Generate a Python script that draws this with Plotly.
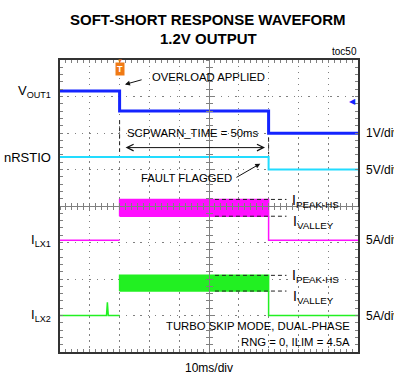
import plotly.graph_objects as go

# ---- scope capture: time base 10 ms/div, 10 divisions ----
T_RANGE = [0, 100]          # ms
DIV_RANGE = [-4, 4]         # vertical divisions

# channel settings: (units per division, ground offset in divisions)
CH_VOUT1 = (1.0, 1.99)
CH_NRSTIO = (5.0, 1.0)
CH_ILX1 = (5.0, -0.94)
CH_ILX2 = (5.0, -3.0)

# event times (ms)
T_OVERLOAD = 20
T_FAULT = 70

# VOUT1 (V)
vout1_t = [0, T_OVERLOAD, T_OVERLOAD, T_FAULT, T_FAULT, 100]
vout1_v = [1.16, 1.16, 0.61, 0.61, 0.0, 0.0]

# nRSTIO (V)
nrstio_t = [0, T_FAULT, T_FAULT, 100]
nrstio_v = [1.7, 1.7, 0.0, 0.0]

# ILX1 (A): idle level, switching band between valley and peak
ilx1_t = [0, T_OVERLOAD, None, T_FAULT, T_FAULT, 100]
ilx1_i = [0.0, 0.0, None, 3.3, 0.0, 0.0]
ilx1_peak = 5.6
ilx1_valley = 3.3

# ILX2 (A): idle level with one pulse, switching band
ilx2_t = [0, 15.6, 15.9, 16.2, T_OVERLOAD, None, T_FAULT, T_FAULT, 100]
ilx2_i = [0.0, 0.0, 1.8, 0.0, 0.0, None, 3.35, 0.0, 0.0]
ilx2_peak = 5.5
ilx2_valley = 3.35

# trigger level on VOUT1 (V)
vout1_trig = 0.86

FONT = "Liberation Sans, Arial, sans-serif"
BLUE = "#1424ff"
CYAN = "#22dcff"
MAGENTA = "#ff10ff"
GREEN = "#22f022"
ORANGE = "#f07a14"


def to_div(vals, ch):
    scale, off = ch
    return [None if v is None else off + v / scale for v in vals]


fig = go.Figure()

# invisible helpers so the centre crosshair axes get drawn
for xa, ya in [("x2", "y"), ("x3", "y"), ("x", "y2"), ("x", "y3")]:
    fig.add_trace(go.Scatter(x=[None], y=[None], xaxis=xa, yaxis=ya,
                             showlegend=False, hoverinfo="skip"))

# switching bands
def band(t0, t1, lo, hi, ch, color):
    y_lo, y_hi = to_div([lo, hi], ch)
    fig.add_trace(go.Scatter(
        x=[t0, t1, t1, t0, t0], y=[y_lo, y_lo, y_hi, y_hi, y_lo],
        mode="lines", fill="toself", fillcolor=color,
        line=dict(color=color, width=1.5), showlegend=False, hoverinfo="skip"))

band(T_OVERLOAD, T_FAULT, ilx1_valley, ilx1_peak, CH_ILX1, MAGENTA)
band(T_OVERLOAD, T_FAULT, ilx2_valley, ilx2_peak, CH_ILX2, GREEN)

fig.add_trace(go.Scatter(x=ilx1_t, y=to_div(ilx1_i, CH_ILX1), mode="lines",
                         line=dict(color=MAGENTA, width=1.5), showlegend=False))
fig.add_trace(go.Scatter(x=ilx2_t, y=to_div(ilx2_i, CH_ILX2), mode="lines",
                         line=dict(color=GREEN, width=1.5), showlegend=False))
fig.add_trace(go.Scatter(x=nrstio_t, y=to_div(nrstio_v, CH_NRSTIO), mode="lines",
                         line=dict(color=CYAN, width=2), showlegend=False))
fig.add_trace(go.Scatter(x=vout1_t, y=to_div(vout1_v, CH_VOUT1), mode="lines",
                         line=dict(color=BLUE, width=3), showlegend=False))

GRID = "#808080"
FRAME = "#333333"

fig.update_layout(
    width=394, height=378,
    margin=dict(l=60, r=36, t=60, b=26),
    paper_bgcolor="white", plot_bgcolor="white",
    font=dict(family=FONT, color="black"),
    showlegend=False,
    xaxis=dict(range=T_RANGE, dtick=10, tick0=0, showticklabels=False,
               showgrid=True, gridcolor=GRID, gridwidth=1, griddash="1.5px,4.46px",
               zeroline=False, showline=True, linecolor=FRAME, linewidth=1.5,
               mirror="allticks", ticks="inside", ticklen=3, tickcolor=GRID,
               minor=dict(dtick=2, ticks="inside", ticklen=3, tickcolor=GRID, showgrid=False)),
    yaxis=dict(range=DIV_RANGE, dtick=1, tick0=0, showticklabels=False,
               showgrid=True, gridcolor=GRID, gridwidth=1, griddash="1.5px,5.8px",
               zeroline=False, showline=True, linecolor=FRAME, linewidth=1.5,
               mirror="allticks", ticks="inside", ticklen=3, tickcolor=GRID,
               minor=dict(dtick=0.2, ticks="inside", ticklen=3, tickcolor=GRID, showgrid=False)),
)

# centre crosshair with ticks on both sides
for name, tk in [("xaxis2", "outside"), ("xaxis3", "inside")]:
    fig.update_layout(**{name: dict(
        overlaying="x", anchor="free", position=0.5, range=T_RANGE,
        showline=True, linecolor=GRID, linewidth=1, showgrid=False, zeroline=False,
        showticklabels=False, ticks=tk, ticklen=3, dtick=2, tickcolor=GRID)})
for name, tk in [("yaxis2", "outside"), ("yaxis3", "inside")]:
    fig.update_layout(**{name: dict(
        overlaying="y", anchor="free", position=0.5, range=DIV_RANGE,
        showline=True, linecolor=GRID, linewidth=1, showgrid=False, zeroline=False,
        showticklabels=False, ticks=tk, ticklen=3, dtick=0.2, tickcolor=GRID)})

# dashed guides
def dline(x0, x1, y0, y1):
    fig.add_shape(type="line", x0=x0, x1=x1, y0=y0, y1=y1, xref="x", yref="y",
                  line=dict(color="#222222", width=1, dash="4px,3px"))

dline(T_OVERLOAD, T_OVERLOAD, 2.35, 1.48)
dline(T_FAULT, T_FAULT, 1.87, 1.42)
for pk, vl, ch in [(ilx1_peak, ilx1_valley, CH_ILX1), (ilx2_peak, ilx2_valley, CH_ILX2)]:
    y_pk, y_vl = to_div([pk, vl], ch)
    dline(52, 76, y_pk, y_pk)
    dline(52, 76, y_vl, y_vl)

PLOT_L, PLOT_W = 60, 298
PLOT_TOP, PLOT_H = 60, 292

def px_x(px):
    return (px - PLOT_L) / PLOT_W

def px_y(py):
    return 1 + (PLOT_TOP - py) / PLOT_H

ann = []

def text(x, y, s, size=11.3, xanchor="center", xref="x", yref="y", family=FONT, **kw):
    ann.append(dict(x=x, y=y, xref=xref, yref=yref, text=s, showarrow=False,
                    xanchor=xanchor, yanchor="middle",
                    font=dict(family=family, size=size, color=kw.pop("color", "black"),
                              weight=kw.pop("weight", "normal")), **kw))

def arrow(x, y, ax, ay, head=2, **kw):
    ann.append(dict(x=x, y=y, ax=ax, ay=ay, xref="x", yref="y", axref="x", ayref="y",
                    text="", showarrow=True, arrowhead=head, arrowwidth=1,
                    arrowcolor="#111111", **kw))

# title
text(px_x(208), px_y(19), "SOFT-SHORT RESPONSE WAVEFORM", size=15, xref="paper",
     yref="paper", weight="bold")
text(px_x(208), px_y(38.5), "1.2V OUTPUT", size=15, xref="paper", yref="paper",
     weight="bold")
text(px_x(359), px_y(51), "toc50", size=10, xanchor="right", xref="paper", yref="paper")

# trigger marker
text(T_OVERLOAD, 3.75, "T", size=9, weight="bold", color="white", bgcolor=ORANGE,
     borderpad=1)
text(T_OVERLOAD, 3.98, "▼", size=6, color=ORANGE)
# trigger level marker
text(1.0, to_div([vout1_trig], CH_VOUT1)[0], "◀", size=8, color=BLUE,
     xanchor="right", xref="paper")

# event annotations
text(30.2, 3.53, "OVERLOAD APPLIED", xanchor="left")
arrow(21.8, 3.33, 27.9, 3.47)
text(44.5, 1.99, "SCPWARN_TIME = 50ms")
arrow(68.8, 1.6, 21.5, 1.6, head=5, arrowside="end+start", startarrowhead=5,
      arrowsize=1.3, startarrowsize=1.3)
text(42.3, 0.77, "FAULT FLAGGED")
arrow(67.2, 1.16, 58.7, 0.76)

for pk, vl, ch in [(ilx1_peak, ilx1_valley, CH_ILX1), (ilx2_peak, ilx2_valley, CH_ILX2)]:
    y_pk, y_vl = to_div([pk, vl], ch)
    text(77.3, y_pk - 0.03, "I<sub>PEAK-HS</sub>", size=14, xanchor="left")
    text(77.5, y_vl - 0.17, "I<sub>VALLEY</sub>", size=14, xanchor="left")

text(px_x(352), -3.3, "TURBO SKIP MODE, DUAL-PHASE", xanchor="right", xref="paper")
text(px_x(352), -3.73, "RNG = 0, ILIM = 4.5A", xanchor="right", xref="paper")
text(0.5, px_y(368), "10ms/div", size=12, xref="paper", yref="paper")

# channel names (left) at each trace's starting level
left = [("V<sub>OUT1</sub>", to_div([vout1_v[0]], CH_VOUT1)[0]),
        ("nRSTIO", to_div([nrstio_v[0]], CH_NRSTIO)[0]),
        ("I<sub>LX1</sub>", to_div([ilx1_i[0]], CH_ILX1)[0]),
        ("I<sub>LX2</sub>", to_div([ilx2_i[0]], CH_ILX2)[0])]
for s, y in left:
    text(px_x(53), y, s, size=13, xanchor="right", xref="paper")

# scale labels (right) at each channel's ground offset
right = [("1V/div", CH_VOUT1[1]), ("5V/div", CH_NRSTIO[1]),
         ("5A/div", CH_ILX1[1]), ("5A/div", CH_ILX2[1])]
for s, y in right:
    text(px_x(364), y, s, size=12, xanchor="left", xref="paper")

fig.update_layout(annotations=ann)
fig.write_html("out.html")
